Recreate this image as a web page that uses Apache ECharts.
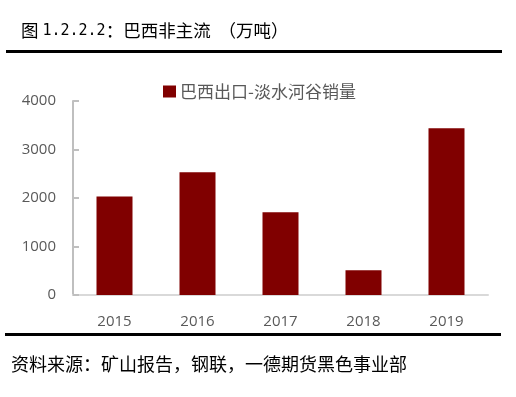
<!DOCTYPE html>
<html>
<head>
<meta charset="utf-8">
<script src="https://cdn.jsdelivr.net/npm/echarts@6/dist/echarts.min.js"></script>
<style>
  html, body { margin: 0; padding: 0; background: #fff; }
  #chart { width: 516px; height: 397px; }
</style>
</head>
<body>
<div id="chart"></div>
<script>
  // 数据
  var years = ['2015', '2016', '2017', '2018', '2019'];
  var salesValues = [2030, 2530, 1705, 512, 3440];
  var seriesName = '巴西出口-淡水河谷销量';
  var yTicks = { min: 0, max: 4000, interval: 1000 };

  var cjk = '"Noto Sans CJK SC", sans-serif';
  var numFont = '"Open Sans", "Noto Sans", sans-serif';

  var chart = echarts.init(document.getElementById('chart'));
  chart.setOption({
    animation: false,
    title: [
      {
        text: '{a|图 }{b|1.2.2.2}{a|：巴西非主流  （万吨）}',
        left: 16, top: 17,
        textStyle: {
          fontWeight: 'normal',
          rich: {
            a: { fontFamily: cjk, fontSize: 17.5, fontWeight: 'normal', color: '#000' },
            b: { fontFamily: '"DejaVu Sans Mono", monospace', fontSize: 15, fontWeight: 'normal', color: '#000' }
          }
        }
      },
      {
        text: '资料来源：矿山报告，钢联，一德期货黑色事业部',
        left: 6, top: 350,
        textStyle: { fontFamily: cjk, fontSize: 18, fontWeight: 'normal', color: '#000' }
      }
    ],
    graphic: [
      { type: 'rect', shape: { x: 6, y: 50, width: 496, height: 3 }, style: { fill: '#000' } },
      { type: 'rect', shape: { x: 5, y: 333, width: 496, height: 3 }, style: { fill: '#000' } }
    ],
    legend: {
      left: 158, top: 78,
      icon: 'rect',
      itemWidth: 13, itemHeight: 12, itemGap: 4,
      textStyle: { fontFamily: cjk, fontSize: 17, color: '#595959', padding: [0, 0, 0, -1] },
      data: [seriesName]
    },
    grid: { left: 73, right: 28, top: 101, bottom: 102 },
    xAxis: {
      type: 'category',
      data: years,
      axisLine: { lineStyle: { color: '#d9d9d9', width: 2 } },
      axisTick: { show: false },
      axisLabel: { fontFamily: numFont, fontSize: 15, color: '#595959', margin: 19 }
    },
    yAxis: {
      type: 'value',
      min: yTicks.min, max: yTicks.max, interval: yTicks.interval,
      axisLine: { show: true, lineStyle: { color: '#bfbfbf', width: 2 } },
      axisTick: { show: true, inside: true, length: 6, lineStyle: { color: '#bfbfbf', width: 2 } },
      splitLine: { show: false },
      axisLabel: {
        fontFamily: numFont, fontSize: 15, color: '#595959', margin: 17,
        formatter: function (v) { return String(v); }
      }
    },
    series: [{
      name: seriesName,
      type: 'bar',
      data: salesValues,
      barWidth: 36,
      itemStyle: { color: '#800000' }
    }]
  });
</script>
</body>
</html>
